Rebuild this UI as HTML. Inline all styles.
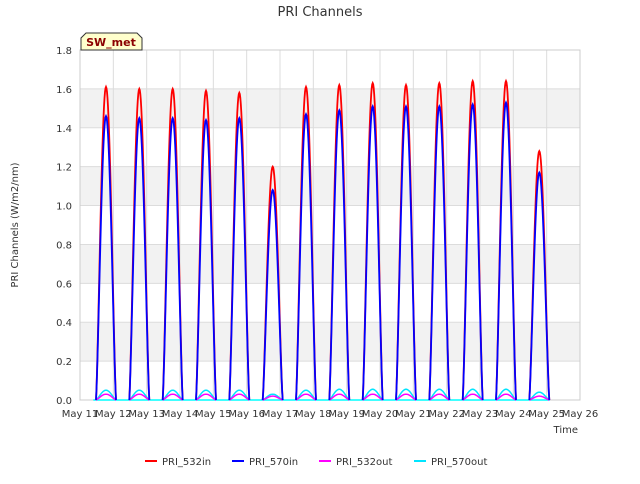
<!DOCTYPE html>
<html><head><meta charset="utf-8"><style>
body{margin:0;background:#fff;font-family:"DejaVu Sans","Liberation Sans",sans-serif}
</style></head><body>
<svg id="c" width="640" height="480" xmlns="http://www.w3.org/2000/svg" font-family="DejaVu Sans, Liberation Sans, sans-serif"></svg>
<script>
const dayLabels=["May 11","May 12","May 13","May 14","May 15","May 16","May 17","May 18","May 19","May 20","May 21","May 22","May 23","May 24","May 25","May 26"];
const yTicks=[0,0.2,0.4,0.6,0.8,1.0,1.2,1.4,1.6,1.8];
const peakDays=[11,12,13,14,15,16,17,18,19,20,21,22,23,24];
const peak532in=[1.61,1.60,1.60,1.59,1.58,1.20,1.61,1.62,1.63,1.62,1.63,1.64,1.64,1.28];
const peak570in=[1.46,1.45,1.45,1.44,1.45,1.08,1.47,1.49,1.51,1.51,1.51,1.52,1.53,1.17];
const peak532out=[0.03,0.03,0.03,0.03,0.03,0.02,0.03,0.03,0.03,0.03,0.03,0.03,0.03,0.02];
const peak570out=[0.05,0.05,0.05,0.05,0.05,0.03,0.05,0.055,0.055,0.055,0.055,0.055,0.055,0.04];
const svg=document.getElementById('c');const NS='http://www.w3.org/2000/svg';
const L=80,R=580,T=50,B=400;
const xs=d=>L+(d-11)/15*(R-L);
const ys=v=>B-v/1.8*(B-T);
function mk(t,a,p){const e=document.createElementNS(NS,t);for(const k in a)e.setAttribute(k,a[k]);(p||svg).appendChild(e);return e;}
mk('rect',{x:L,y:T,width:R-L,height:B-T,fill:'#fff'});
for(let i=0;i<yTicks.length-1;i++){if(i%2==1){const b=mk('rect',{x:L,y:ys(yTicks[i+1]),width:R-L,height:ys(yTicks[i])-ys(yTicks[i+1]),fill:'#f2f2f2'});

}}
yTicks.forEach(v=>{mk('line',{x1:L,x2:R,y1:ys(v),y2:ys(v),stroke:'#dcdcdc'});
const t=mk('text',{x:L-8,y:ys(v)+4,'text-anchor':'end','font-size':10,fill:'#333'});t.textContent=v.toFixed(1);

});
dayLabels.forEach((s,i)=>{const x=xs(11+i);mk('line',{x1:x,x2:x,y1:T,y2:B,stroke:'#dcdcdc'});
const t=mk('text',{x:x,y:B+17,'text-anchor':'middle','font-size':10,fill:'#333'});t.textContent=s;

});
mk('rect',{x:L,y:T,width:R-L,height:B-T,fill:'none',stroke:'#ccc'});
function series(peaks,color,name,w){let d='';
peaks.forEach((p,i)=>{const d0=peakDays[i];
for(let k=0;k<=40;k++){const f=k/40;const t=d0+0.48+0.6*f;const v=p*Math.pow(Math.sin(Math.PI*f),1.3);
d+=(k==0?'M':'L')+xs(t).toFixed(1)+','+ys(v).toFixed(1);}});
const pa=mk('path',{d:d,fill:'none',stroke:color,'stroke-width':w});

}
mk('line',{x1:xs(11.4),x2:xs(25.1),y1:ys(0),y2:ys(0),stroke:'#0ff','stroke-width':1.5});
series(peak570out,'#00e5ff','series-570out',1.5);
series(peak532out,'#ff00ff','series-532out',1.5);
series(peak532in,'#ff0000','series-532in',1.8);
series(peak570in,'#0000ff','series-570in',1.8);
let t=mk('text',{x:320,y:16,'text-anchor':'middle','font-size':13,fill:'#333'});t.textContent='PRI Channels';

t=mk('text',{x:18,y:225,'text-anchor':'middle','font-size':10,fill:'#333',transform:'rotate(-90 18 225)'});t.textContent='PRI Channels (W/m2/nm)';

t=mk('text',{x:578,y:433,'text-anchor':'end','font-size':10,fill:'#333'});t.textContent='Time';

const g=mk('g',{});
mk('path',{d:'M81,50 L81,38 L86,33 L137,33 L142,38 L142,50 Z',fill:'#ffffcc',stroke:'#333'},g);
t=mk('text',{x:111,y:46,'text-anchor':'middle','font-size':11,'font-weight':'bold',fill:'#8b0000'},g);t.textContent='SW_met';
const leg=[['PRI_532in','#ff0000',145],['PRI_570in','#0000ff',232],['PRI_532out','#ff00ff',319],['PRI_570out','#00e5ff',414]];
leg.forEach(([n,c,x])=>{const lg=mk('g',{});
mk('line',{x1:x,x2:x+12,y1:461,y2:461,stroke:c,'stroke-width':2},lg);
const tt=mk('text',{x:x+17,y:465,'font-size':10,fill:'#333'},lg);tt.textContent=n;});
</script>
</body></html>
